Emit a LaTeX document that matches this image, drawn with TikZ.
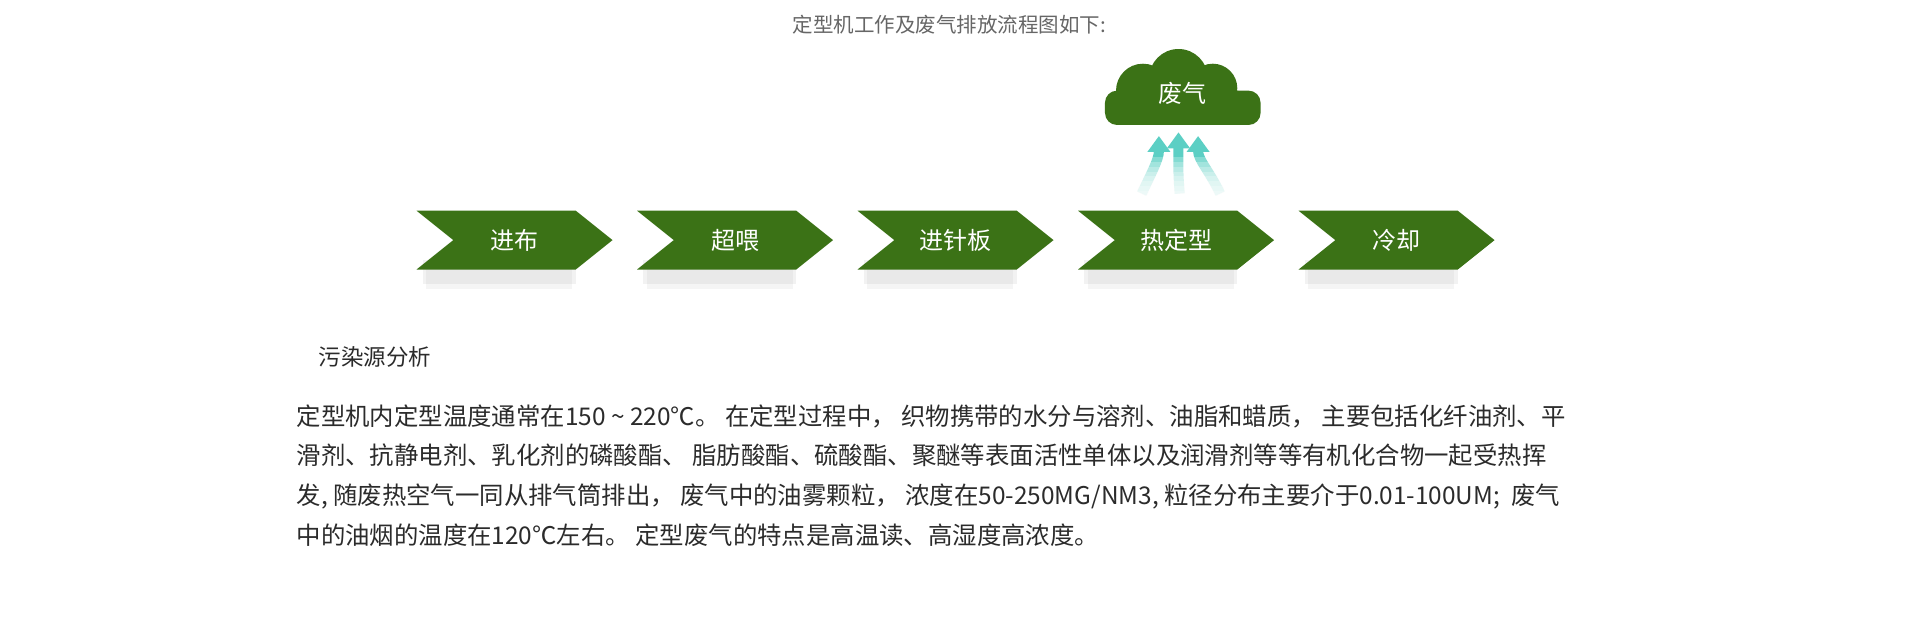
\documentclass[tikz,border=0pt]{standalone}
\usepackage{fontspec}
\setmainfont{Noto Sans CJK SC}
\usetikzlibrary{arrows.meta}
\definecolor{leafgreen}{HTML}{3B7216}
\definecolor{steam}{HTML}{5CCFC4}
\definecolor{bodygray}{HTML}{2B2B2B}
\tikzset{
  stage/.style={text=white,font=\fontsize{24}{28}\selectfont},
  plain/.style={anchor=west,text=bodygray,font=\fontsize{24.4}{28}\selectfont,inner sep=0pt},
  puff/.style={line width=10pt,steam,-{Triangle[width=22pt,length=16pt]}}
}
\begin{document}
\begin{tikzpicture}[x=1.225pt,y=-1.225pt]
\useasboundingbox (0,0) rectangle (1567.3,503.7);
\node[text=gray!80!black,font=\fontsize{20.5}{24}\selectfont](title) at (775,20){定型机工作及废气排放流程图如下:};
% chevrons
\foreach \cx/\lbl/\nm in {420/进布/s1,600/超喂/s2,780/进针板/s3,960/热定型/s4,1140/冷却/s5}{
  \fill[black,opacity=0.05] (\cx-75,212)--(\cx+50,212)--(\cx+50,232)--(\cx-75,232)--cycle;
  \fill[black,opacity=0.04] (\cx-72,214)--(\cx+47,214)--(\cx+47,236)--(\cx-72,236)--cycle;
  \fill[leafgreen] (\cx-80,172)--(\cx+50,172)--(\cx+80,196)--(\cx+50,220)--(\cx-80,220)--(\cx-50,196)--cycle;
  \node[stage](\nm) at (\cx,196){\lbl};
}
% cloud
\fill[leafgreen] (933,74) circle (22) (962,64) circle (24) (990,72) circle (20) (1008,88) circle (14) (921,88) circle (14);
\fill[leafgreen,rounded corners=12pt] (902,74) rectangle (1029,102);
\node[stage](cloud) at (965,76){废气};
% steam
\coordinate (c1) at (946,111); \coordinate (c2) at (962,108); \coordinate (c3) at (978,111);
\draw[puff] (932,158) to[out=65,in=-90] (c1);
\draw[puff] (963,158) to[out=95,in=-90] (c2);
\draw[puff] (996,158) to[out=115,in=-90] (c3);
\foreach \k in {0,...,7}{
  \fill[white,opacity=0.25] (915,{128+4*\k}) rectangle (1010,162);
}
% text
\node[plain,font=\fontsize{22.5}{26}\selectfont](head) at (260,291){污染源分析};
\node[plain](l1) at (242,340){定型机内定型温度通常在150 \textasciitilde{} 220℃。\ 在定型过程中，\ 织物携带的水分与溶剂、油脂和蜡质，\ 主要包括化纤油剂、平};
\node[plain](l2) at (242,372){滑剂、抗静电剂、乳化剂的磷酸酯、\ 脂肪酸酯、硫酸酯、聚醚等表面活性单体以及润滑剂等等有机化合物一起受热挥};
\node[plain](l3) at (242,405){发, 随废热空气一同从排气筒排出，\ 废气中的油雾颗粒，\ 浓度在50-250MG/NM3, 粒径分布主要介于0.01-100UM;\ \ 废气};
\node[plain](l4) at (242,437){中的油烟的温度在120℃左右。\ 定型废气的特点是高温读、高湿度高浓度。};
\end{tikzpicture}
\end{document}
